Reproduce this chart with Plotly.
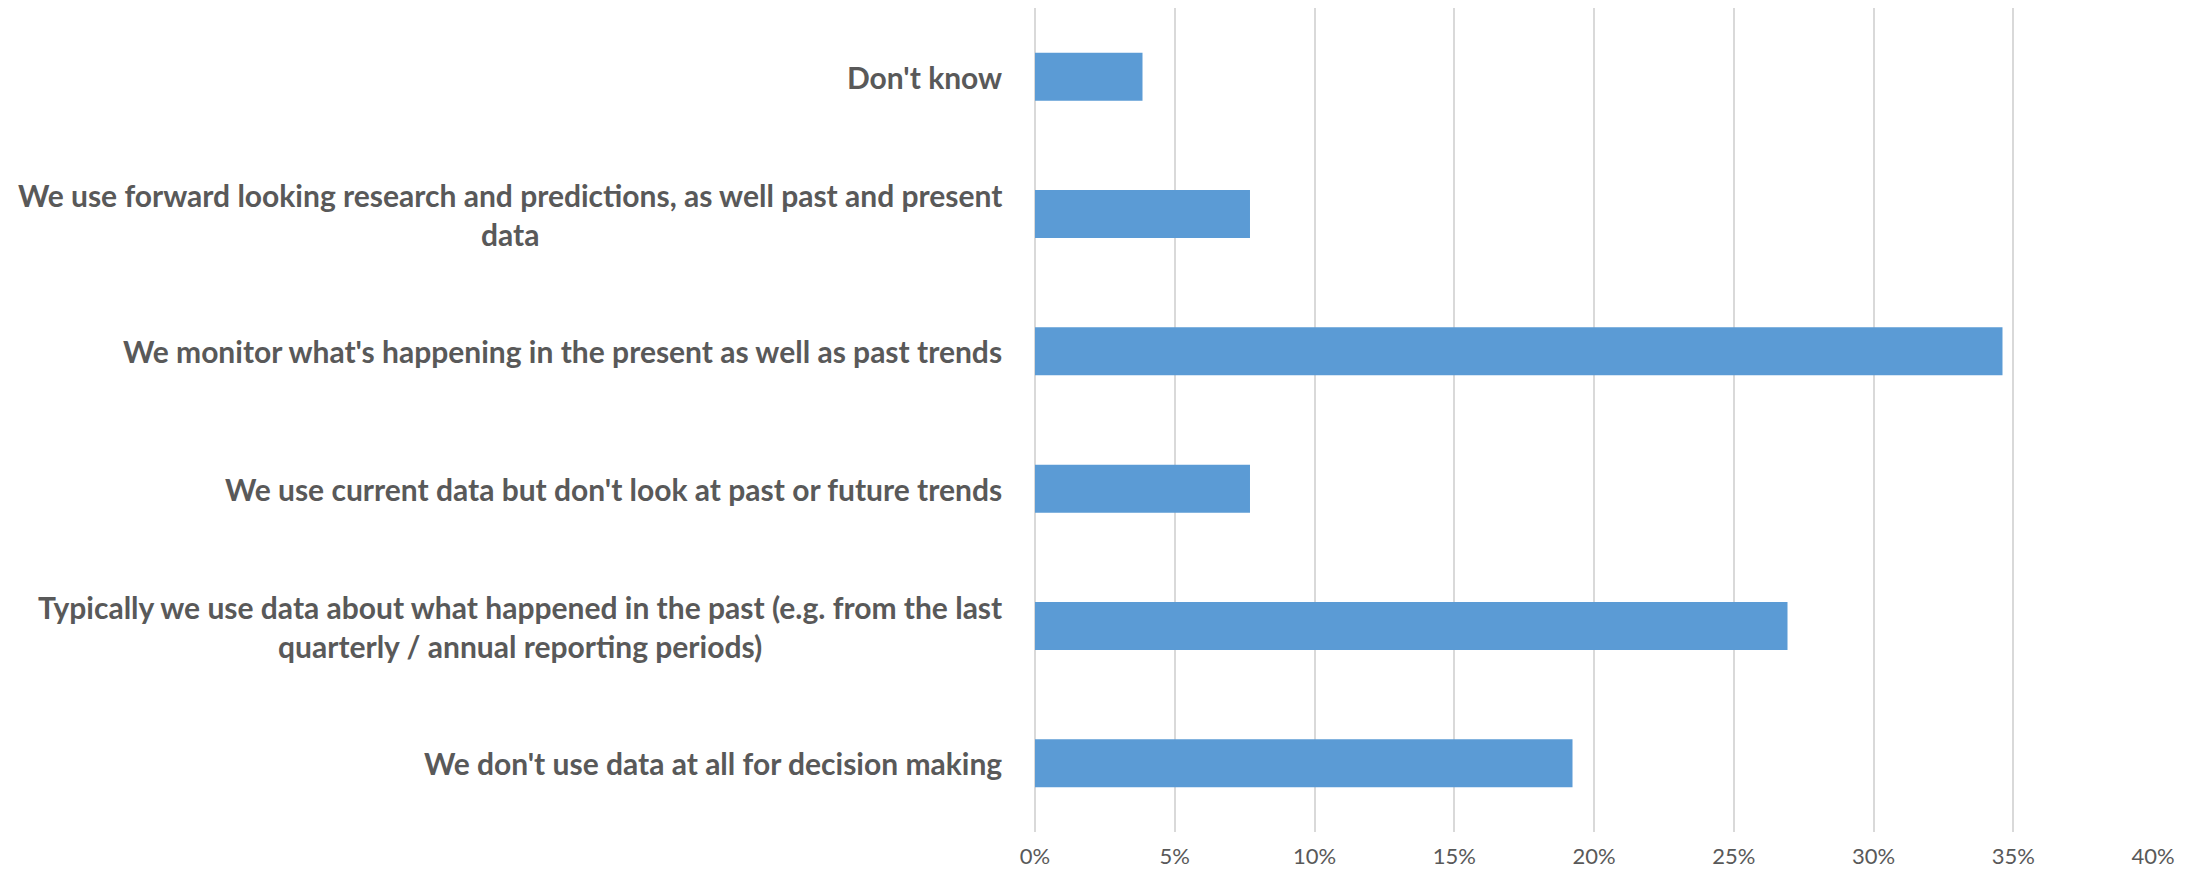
import plotly.graph_objects as go

# Survey answers, listed top to bottom
categories = [
    "Don't know",
    "We use forward looking research and predictions, as well past and present<br>data",
    "We monitor what's happening in the present as well as past trends",
    "We use current data but don't look at past or future trends",
    "Typically we use data about what happened in the past (e.g. from the last<br>quarterly / annual reporting periods)",
    "We don't use data at all for decision making",
]
# Share of respondents
shares = [0.03846, 0.07692, 0.34615, 0.07692, 0.26923, 0.19231]

x_ticks = [0, 0.05, 0.10, 0.15, 0.20, 0.25, 0.30, 0.35, 0.40]

TEXT = "#595959"
GRID = "#d9d9d9"

fig = go.Figure(
    go.Bar(
        x=shares,
        y=categories,
        orientation="h",
        marker=dict(color="#5B9BD5", line=dict(width=0)),
        width=0.35,
        hoverinfo="x+y",
    )
)

# Category labels drawn as centred multi-line text to the left of the axis
for cat in categories:
    fig.add_annotation(
        x=0, xref="paper", xanchor="right", xshift=-31,
        y=cat, yref="y", yanchor="middle",
        text=cat, showarrow=False, align="center",
        font=dict(family="Lato", size=30, color=TEXT, weight="bold"),
    )

fig.update_layout(
    width=2203, height=872,
    margin=dict(l=1035, r=50, t=8, b=40, autoexpand=False),
    paper_bgcolor="white", plot_bgcolor="white",
    showlegend=False,
    bargap=0.65,
)
fig.update_xaxes(
    range=[0, 0.40],
    tickvals=x_ticks,
    tickformat=".0%",
    showgrid=True, gridcolor=GRID, gridwidth=2,
    zeroline=True, zerolinecolor=GRID, zerolinewidth=2,
    showline=False, ticks="",
    automargin=False,
    ticklabelstandoff=9,
    tickfont=dict(family="Lato", size=22, color=TEXT),
)
fig.update_yaxes(
    type="category",
    autorange="reversed",
    showticklabels=False,
    automargin=False,
    showgrid=False, zeroline=False, showline=False, ticks="",
)

fig.write_html("out.html")
